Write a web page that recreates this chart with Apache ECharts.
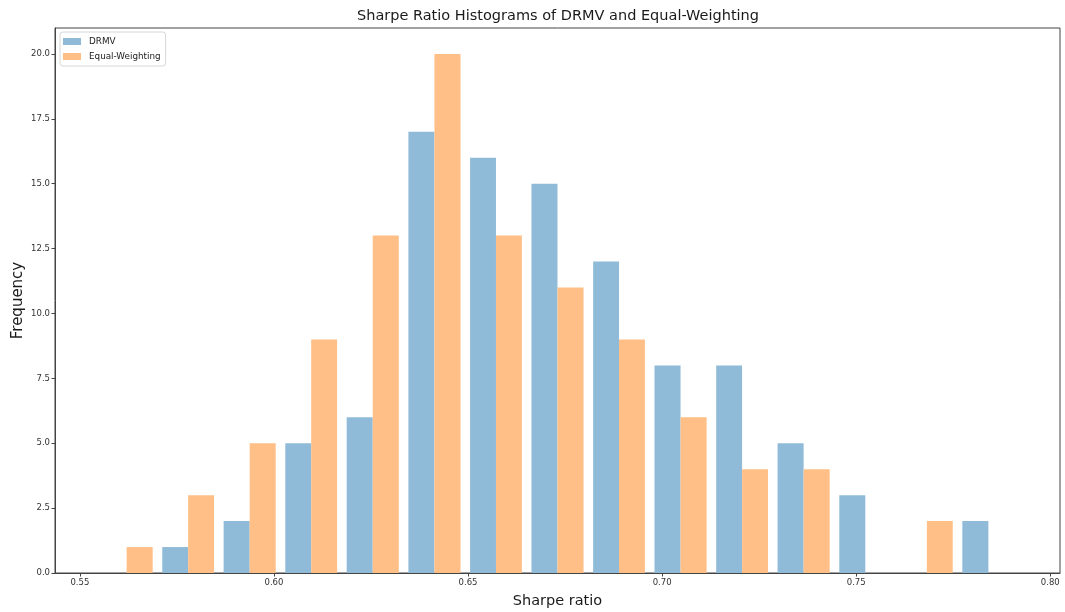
<!DOCTYPE html>
<html>
<head>
<meta charset="utf-8">
<script src="https://cdn.jsdelivr.net/npm/echarts@6/dist/echarts.min.js"></script>
<style>
html,body{margin:0;padding:0;background:#fff;}
#chart{width:1065px;height:612px;}
</style>
</head>
<body>
<div id="chart"></div>
<script>
// Histogram bin edges (15 bins)
var binEdges = [0.5541, 0.5700, 0.5858, 0.6017, 0.6175, 0.6334, 0.6493, 0.6651,
                0.6810, 0.6968, 0.7127, 0.7285, 0.7444, 0.7603, 0.7761, 0.7920];
// Frequencies per bin
var drmv           = [0, 1, 2, 5, 6, 17, 16, 15, 12, 8, 8, 5, 3, 0, 2];
var equalWeighting = [1, 3, 5, 9, 13, 20, 13, 11, 9, 6, 4, 4, 0, 2, 0];
var xTicks = [0.55, 0.60, 0.65, 0.70, 0.75, 0.80];
var seriesNames = ['DRMV', 'Equal-Weighting'];

var FONT = 'DejaVu Sans';
var chart = echarts.init(document.getElementById('chart'), null, {renderer: 'canvas'});

function buildData(counts) {
  var out = [];
  for (var i = 0; i < counts.length; i++) {
    out.push([binEdges[i], binEdges[i + 1], counts[i]]);
  }
  return out;
}

function makeRender(fromFrac, toFrac) {
  return function (params, api) {
    var x0 = api.value(0), x1 = api.value(1), h = api.value(2);
    if (!h) return null;
    var w = x1 - x0;
    var p0 = api.coord([x0 + w * fromFrac, h]);
    var p1 = api.coord([x0 + w * toFrac, 0]);
    return {
      type: 'rect',
      shape: {x: p0[0], y: p0[1], width: p1[0] - p0[0], height: p1[1] - p0[1]},
      style: api.style()
    };
  };
}

var option = {
  animation: false,
  backgroundColor: '#ffffff',
  title: {
    text: 'Sharpe Ratio Histograms of DRMV and Equal-Weighting',
    left: 357,
    top: 9,
    padding: 0,
    textStyle: {fontFamily: FONT, fontSize: 14.5, fontWeight: 'normal', color: '#1a1a1a'}
  },
  legend: {
    data: seriesNames,
    orient: 'vertical',
    left: 60,
    top: 32,
    itemWidth: 18,
    itemHeight: 7,
    itemGap: 4,
    padding: [4, 5, 4, 3],
    borderColor: '#d6d6d6',
    borderWidth: 1,
    borderRadius: 3,
    icon: 'rect',
    textStyle: {fontFamily: FONT, fontSize: 8.8, color: '#222', lineHeight: 11, padding: [0, 0, 0, 3]}
  },
  grid: {left: 55, right: 5, top: 28, bottom: 39, show: true, borderColor: '#444', borderWidth: 1,
         containLabel: false, outerBoundsMode: 'none'},
  xAxis: {
    type: 'value',
    min: 0.5436,
    max: 0.8025,
    name: 'Sharpe ratio',
    nameLocation: 'middle',
    nameGap: 21,
    nameMoveOverlap: false,
    nameTextStyle: {fontFamily: FONT, fontSize: 14.5, color: '#1a1a1a'},
    splitLine: {show: false},
    axisLine: {show: true, onZero: false, lineStyle: {color: '#444', width: 1}},
    axisTick: {show: true, customValues: xTicks, length: 3.5, lineStyle: {color: '#444'}},
    axisLabel: {
      customValues: xTicks,
      fontFamily: FONT, fontSize: 8.5, color: '#333', margin: 5,
      formatter: function (v) { return v.toFixed(2); }
    }
  },
  yAxis: {
    type: 'value',
    min: 0,
    max: 21,
    interval: 2.5,
    name: 'Frequency',
    nameLocation: 'middle',
    nameGap: 29,
    nameMoveOverlap: false,
    nameTextStyle: {fontFamily: FONT, fontSize: 15, color: '#1a1a1a'},
    splitLine: {show: false},
    axisLine: {show: true, lineStyle: {color: '#444', width: 1}},
    axisTick: {show: true, length: 3.5, lineStyle: {color: '#444'}},
    axisLabel: {
      fontFamily: FONT, fontSize: 8.5, color: '#333', margin: 5,
      showMaxLabel: false,
      formatter: function (v) { return v.toFixed(1); }
    }
  },
  series: [
    {
      name: seriesNames[0],
      type: 'custom',
      renderItem: makeRender(0.078, 0.5),
      itemStyle: {color: '#8fbbd9'},
      encode: {x: [0, 1], y: 2},
      data: buildData(drmv)
    },
    {
      name: seriesNames[1],
      type: 'custom',
      renderItem: makeRender(0.5, 0.922),
      itemStyle: {color: '#ffbf86'},
      encode: {x: [0, 1], y: 2},
      data: buildData(equalWeighting)
    }
  ]
};
chart.setOption(option);
</script>
</body>
</html>
